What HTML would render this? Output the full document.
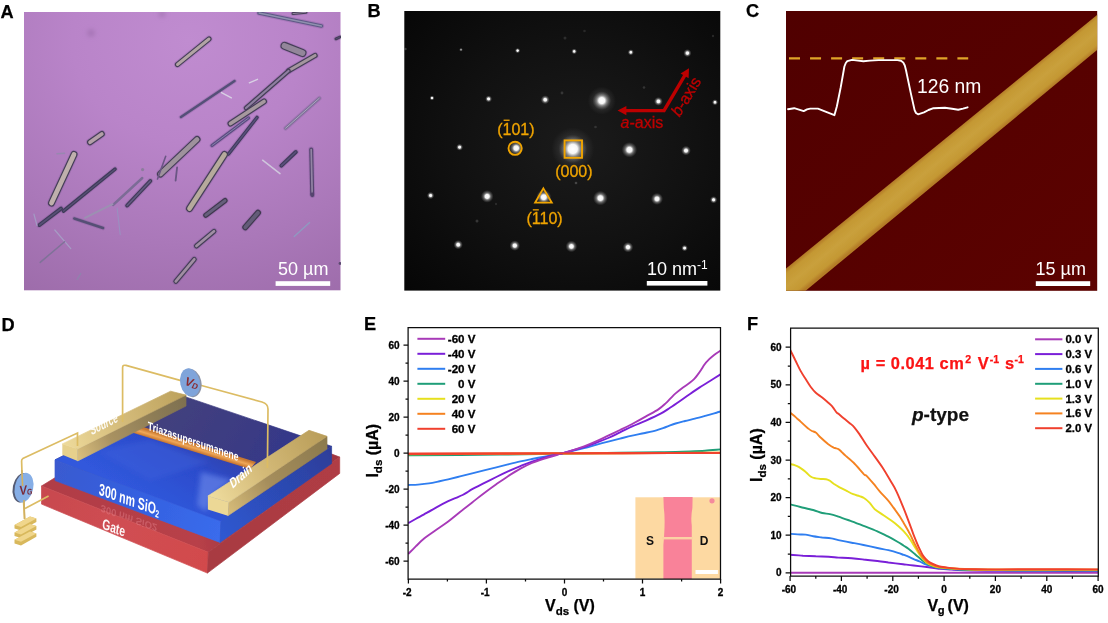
<!DOCTYPE html>
<html lang="en">
<head>
<meta charset="utf-8">
<title>Figure</title>
<style>
html,body{margin:0;padding:0;background:#ffffff;overflow:hidden}
svg{display:block}
text{font-family:"Liberation Sans",sans-serif}
.lab{font-size:18.2px;font-weight:bold;fill:#000;stroke:#000;stroke-width:0.25px}
.sb{font-size:18px;fill:#fff}
.tk{font-size:10px;font-weight:bold;fill:#000;stroke:#000;stroke-width:0.3px}
.lg{font-size:11.4px;font-weight:bold;fill:#000;stroke:#000;stroke-width:0.3px}
.ax{font-size:16px;font-weight:bold;fill:#000;stroke:#000;stroke-width:0.25px}
.cv{fill:none;stroke-width:1.9;stroke-linejoin:round;stroke-linecap:butt}
</style>
</head>
<body>
<svg width="1108" height="623" viewBox="0 0 1108 623">
<rect x="0" y="0" width="1108" height="623" fill="#ffffff"/>

<!-- Panel A: optical micrograph -->
<g id="panelA">
<defs>
<radialGradient id="gA" cx="0.52" cy="0.1" r="1.05">
<stop offset="0" stop-color="#c08cd0"/>
<stop offset="0.35" stop-color="#b984c9"/>
<stop offset="0.7" stop-color="#aa78b9"/>
<stop offset="1" stop-color="#9d6caa"/>
</radialGradient>
<filter id="blA" x="-5%" y="-5%" width="110%" height="110%"><feGaussianBlur stdDeviation="0.6"/></filter>
<filter id="blA2" x="-50%" y="-50%" width="200%" height="200%"><feGaussianBlur stdDeviation="2"/></filter>
<clipPath id="cA"><rect x="24" y="12" width="316.5" height="278.3"/></clipPath>
</defs>
<rect x="24" y="12" width="316.5" height="278.3" fill="url(#gA)"/>
<g clip-path="url(#cA)">
<g filter="url(#blA2)">
<circle cx="91" cy="33" r="4" fill="#a877b8"/>
<circle cx="162" cy="14" r="3.5" fill="#aa7aba"/>
</g>
<g filter="url(#blA)">
<line x1="177.5" y1="64.5" x2="209" y2="39" stroke="#5c4478" stroke-width="7" stroke-linecap="round" opacity="0.2"/>
<line x1="177.5" y1="64.5" x2="209" y2="39" stroke="#443e56" stroke-width="5.2" stroke-linecap="round" opacity="1.0"/>
<line x1="177.5" y1="64.5" x2="209" y2="39" stroke="#b2a4a4" stroke-width="2.9" stroke-linecap="round"/>
<line x1="259" y1="13" x2="321.5" y2="26" stroke="#5c4478" stroke-width="5.4" stroke-linecap="round" opacity="0.2"/>
<line x1="259" y1="13" x2="321.5" y2="26" stroke="#5e5a86" stroke-width="3.6" stroke-linecap="round" opacity="1.0"/>
<line x1="259" y1="13" x2="321.5" y2="26" stroke="#8f90ae" stroke-width="1.3" stroke-linecap="round"/>
<line x1="293" y1="13.6" x2="306" y2="12.2" stroke="#5c4478" stroke-width="4.8" stroke-linecap="round" opacity="0.2"/>
<line x1="293" y1="13.6" x2="306" y2="12.2" stroke="#443e56" stroke-width="3" stroke-linecap="round" opacity="1.0"/>
<line x1="293" y1="13.6" x2="306" y2="12.2" stroke="#9a8aa6" stroke-width="0.9" stroke-linecap="round"/>
<line x1="336" y1="38.8" x2="340" y2="37" stroke="#5c4478" stroke-width="4.8" stroke-linecap="round" opacity="0.2"/>
<line x1="336" y1="38.8" x2="340" y2="37" stroke="#443e56" stroke-width="3" stroke-linecap="round" opacity="1.0"/>
<line x1="336" y1="38.8" x2="340" y2="37" stroke="#5a4a78" stroke-width="0.9" stroke-linecap="round"/>
<line x1="284.5" y1="45.8" x2="302.5" y2="53" stroke="#5c4478" stroke-width="9.8" stroke-linecap="round" opacity="0.2"/>
<line x1="284.5" y1="45.8" x2="302.5" y2="53" stroke="#443e56" stroke-width="8" stroke-linecap="round" opacity="1.0"/>
<line x1="284.5" y1="45.8" x2="302.5" y2="53" stroke="#93869a" stroke-width="5.7" stroke-linecap="round"/>
<line x1="315" y1="55.5" x2="289" y2="70.5" stroke="#5c4478" stroke-width="7.2" stroke-linecap="round" opacity="0.2"/>
<line x1="315" y1="55.5" x2="289" y2="70.5" stroke="#443e56" stroke-width="5.4" stroke-linecap="round" opacity="1.0"/>
<line x1="315" y1="55.5" x2="289" y2="70.5" stroke="#a4969e" stroke-width="3.1" stroke-linecap="round"/>
<line x1="288.5" y1="71" x2="246" y2="108" stroke="#5c4478" stroke-width="6.4" stroke-linecap="round" opacity="0.2"/>
<line x1="288.5" y1="71" x2="246" y2="108" stroke="#443e56" stroke-width="4.6" stroke-linecap="round" opacity="1.0"/>
<line x1="288.5" y1="71" x2="246" y2="108" stroke="#8e7fa0" stroke-width="2.3" stroke-linecap="round"/>
<line x1="264" y1="101.5" x2="230.5" y2="123.5" stroke="#5c4478" stroke-width="7.8" stroke-linecap="round" opacity="0.2"/>
<line x1="264" y1="101.5" x2="230.5" y2="123.5" stroke="#443e56" stroke-width="6" stroke-linecap="round" opacity="1.0"/>
<line x1="264" y1="101.5" x2="230.5" y2="123.5" stroke="#a6989e" stroke-width="3.7" stroke-linecap="round"/>
<line x1="257" y1="117.5" x2="228.5" y2="154" stroke="#5c4478" stroke-width="5.4" stroke-linecap="round" opacity="0.2"/>
<line x1="257" y1="117.5" x2="228.5" y2="154" stroke="#3f3a5a" stroke-width="3.6" stroke-linecap="round" opacity="1.0"/>
<line x1="257" y1="117.5" x2="228.5" y2="154" stroke="#57507a" stroke-width="1.3" stroke-linecap="round"/>
<line x1="248.5" y1="118" x2="212" y2="145.5" stroke="#5c4478" stroke-width="5" stroke-linecap="round" opacity="0.2"/>
<line x1="248.5" y1="118" x2="212" y2="145.5" stroke="#5a4c80" stroke-width="3.2" stroke-linecap="round" opacity="1.0"/>
<line x1="248.5" y1="118" x2="212" y2="145.5" stroke="#8c84b0" stroke-width="0.9" stroke-linecap="round"/>
<line x1="224.5" y1="154.5" x2="189.5" y2="208.5" stroke="#5c4478" stroke-width="8.8" stroke-linecap="round" opacity="0.2"/>
<line x1="224.5" y1="154.5" x2="189.5" y2="208.5" stroke="#443e56" stroke-width="7" stroke-linecap="round" opacity="1.0"/>
<line x1="224.5" y1="154.5" x2="189.5" y2="208.5" stroke="#b6aa9c" stroke-width="4.7" stroke-linecap="round"/>
<line x1="197" y1="139.5" x2="160.5" y2="174" stroke="#5c4478" stroke-width="8.8" stroke-linecap="round" opacity="0.2"/>
<line x1="197" y1="139.5" x2="160.5" y2="174" stroke="#443e56" stroke-width="7" stroke-linecap="round" opacity="1.0"/>
<line x1="197" y1="139.5" x2="160.5" y2="174" stroke="#9e929c" stroke-width="4.7" stroke-linecap="round"/>
<line x1="165.7" y1="156.3" x2="157.5" y2="179" stroke="#6a5684" stroke-width="1.6" stroke-linecap="round" opacity="1.0"/>
<line x1="177.1" y1="167.3" x2="175.6" y2="180.6" stroke="#6a5684" stroke-width="1.8" stroke-linecap="round" opacity="1.0"/>
<line x1="234.5" y1="81" x2="181" y2="117" stroke="#5c4478" stroke-width="4.4" stroke-linecap="round" opacity="0.2"/>
<line x1="234.5" y1="81" x2="181" y2="117" stroke="#555078" stroke-width="2.6" stroke-linecap="round" opacity="1.0"/>
<line x1="249.3" y1="82.8" x2="257.5" y2="79.3" stroke="#d8d0e4" stroke-width="1.4" stroke-linecap="round" opacity="1.0"/>
<line x1="221.5" y1="92.6" x2="231.4" y2="97.8" stroke="#d8d0e4" stroke-width="1.4" stroke-linecap="round" opacity="1.0"/>
<line x1="319.3" y1="98.2" x2="285.6" y2="128.2" stroke="#5c4478" stroke-width="4.6" stroke-linecap="round" opacity="0.2"/>
<line x1="319.3" y1="98.2" x2="285.6" y2="128.2" stroke="#7c7296" stroke-width="2.8" stroke-linecap="round" opacity="1.0"/>
<line x1="319.3" y1="98.2" x2="285.6" y2="128.2" stroke="#b4a8c6" stroke-width="0.9" stroke-linecap="round"/>
<line x1="262.6" y1="160.2" x2="280" y2="173.6" stroke="#cfc6dc" stroke-width="1.5" stroke-linecap="round" opacity="1.0"/>
<line x1="295.8" y1="152" x2="281.4" y2="165.6" stroke="#5c4478" stroke-width="5.8" stroke-linecap="round" opacity="0.2"/>
<line x1="295.8" y1="152" x2="281.4" y2="165.6" stroke="#403a5a" stroke-width="4" stroke-linecap="round" opacity="1.0"/>
<line x1="295.8" y1="152" x2="281.4" y2="165.6" stroke="#58507a" stroke-width="1.7" stroke-linecap="round"/>
<line x1="311.2" y1="149.5" x2="312.2" y2="194.5" stroke="#5c4478" stroke-width="5.8" stroke-linecap="round" opacity="0.2"/>
<line x1="311.2" y1="149.5" x2="312.2" y2="194.5" stroke="#54446e" stroke-width="4" stroke-linecap="round" opacity="1.0"/>
<line x1="311.2" y1="149.5" x2="312.2" y2="194.5" stroke="#9284a4" stroke-width="1.7" stroke-linecap="round"/>
<line x1="90" y1="142.3" x2="101.8" y2="134" stroke="#5c4478" stroke-width="7.8" stroke-linecap="round" opacity="0.2"/>
<line x1="90" y1="142.3" x2="101.8" y2="134" stroke="#443e56" stroke-width="6" stroke-linecap="round" opacity="1.0"/>
<line x1="90" y1="142.3" x2="101.8" y2="134" stroke="#b39fa8" stroke-width="3.7" stroke-linecap="round"/>
<line x1="57" y1="153.8" x2="64.5" y2="153.2" stroke="#9888b0" stroke-width="1.5" stroke-linecap="round" opacity="1.0"/>
<line x1="74" y1="154.5" x2="51.5" y2="203" stroke="#5c4478" stroke-width="8.8" stroke-linecap="round" opacity="0.2"/>
<line x1="74" y1="154.5" x2="51.5" y2="203" stroke="#443e56" stroke-width="7" stroke-linecap="round" opacity="1.0"/>
<line x1="74" y1="154.5" x2="51.5" y2="203" stroke="#bfb0ac" stroke-width="4.7" stroke-linecap="round"/>
<line x1="115" y1="169.2" x2="63.5" y2="211" stroke="#5c4478" stroke-width="5.4" stroke-linecap="round" opacity="0.2"/>
<line x1="115" y1="169.2" x2="63.5" y2="211" stroke="#3e3a58" stroke-width="3.6" stroke-linecap="round" opacity="1.0"/>
<line x1="115" y1="169.2" x2="63.5" y2="211" stroke="#565074" stroke-width="1.3" stroke-linecap="round"/>
<line x1="61" y1="208.6" x2="39.5" y2="225" stroke="#5c4478" stroke-width="5.8" stroke-linecap="round" opacity="0.2"/>
<line x1="61" y1="208.6" x2="39.5" y2="225" stroke="#3e3a58" stroke-width="4" stroke-linecap="round" opacity="1.0"/>
<line x1="61" y1="208.6" x2="39.5" y2="225" stroke="#565074" stroke-width="1.7" stroke-linecap="round"/>
<line x1="142.3" y1="178" x2="113" y2="205" stroke="#7c6c96" stroke-width="2.4" stroke-linecap="round" opacity="1.0"/>
<line x1="112.5" y1="204.2" x2="85" y2="217.8" stroke="#9c90b2" stroke-width="2" stroke-linecap="round" opacity="1.0"/>
<line x1="150.3" y1="181" x2="127.2" y2="205.5" stroke="#5c4478" stroke-width="5.8" stroke-linecap="round" opacity="0.2"/>
<line x1="150.3" y1="181" x2="127.2" y2="205.5" stroke="#403a58" stroke-width="4" stroke-linecap="round" opacity="1.0"/>
<line x1="150.3" y1="181" x2="127.2" y2="205.5" stroke="#625a80" stroke-width="1.7" stroke-linecap="round"/>
<line x1="74.3" y1="218.5" x2="103" y2="228" stroke="#5c4478" stroke-width="4.4" stroke-linecap="round" opacity="0.2"/>
<line x1="74.3" y1="218.5" x2="103" y2="228" stroke="#545074" stroke-width="2.6" stroke-linecap="round" opacity="1.0"/>
<line x1="117.1" y1="208" x2="120.2" y2="234.6" stroke="#9a90c0" stroke-width="1.1" stroke-linecap="round" opacity="1.0"/>
<line x1="33.9" y1="214" x2="37" y2="225.5" stroke="#a49ac4" stroke-width="1.2" stroke-linecap="round" opacity="1.0"/>
<line x1="54.8" y1="230" x2="70.8" y2="248.6" stroke="#a79cc4" stroke-width="1.2" stroke-linecap="round" opacity="1.0"/>
<line x1="64.6" y1="241.8" x2="40.2" y2="262.4" stroke="#7f7298" stroke-width="1.5" stroke-linecap="round" opacity="1.0"/>
<line x1="80.8" y1="273.5" x2="77.2" y2="279.3" stroke="#8f84ac" stroke-width="1.3" stroke-linecap="round" opacity="1.0"/>
<line x1="194.3" y1="259.3" x2="175.8" y2="281.4" stroke="#5c4478" stroke-width="6.8" stroke-linecap="round" opacity="0.2"/>
<line x1="194.3" y1="259.3" x2="175.8" y2="281.4" stroke="#443e56" stroke-width="5" stroke-linecap="round" opacity="1.0"/>
<line x1="194.3" y1="259.3" x2="175.8" y2="281.4" stroke="#a08ea2" stroke-width="2.7" stroke-linecap="round"/>
<line x1="225" y1="200.6" x2="205.8" y2="215.2" stroke="#5c4478" stroke-width="7" stroke-linecap="round" opacity="0.2"/>
<line x1="225" y1="200.6" x2="205.8" y2="215.2" stroke="#3e384e" stroke-width="5.2" stroke-linecap="round" opacity="1.0"/>
<line x1="225" y1="200.6" x2="205.8" y2="215.2" stroke="#665e7c" stroke-width="2.9" stroke-linecap="round"/>
<line x1="214" y1="231.3" x2="196.4" y2="246" stroke="#5c4478" stroke-width="6.8" stroke-linecap="round" opacity="0.2"/>
<line x1="214" y1="231.3" x2="196.4" y2="246" stroke="#443e56" stroke-width="5" stroke-linecap="round" opacity="1.0"/>
<line x1="214" y1="231.3" x2="196.4" y2="246" stroke="#a08ea4" stroke-width="2.7" stroke-linecap="round"/>
<line x1="258" y1="212.8" x2="245.3" y2="227.3" stroke="#5c4478" stroke-width="7.8" stroke-linecap="round" opacity="0.2"/>
<line x1="258" y1="212.8" x2="245.3" y2="227.3" stroke="#3e384e" stroke-width="6" stroke-linecap="round" opacity="1.0"/>
<line x1="258" y1="212.8" x2="245.3" y2="227.3" stroke="#645c78" stroke-width="3.7" stroke-linecap="round"/>
<line x1="309.6" y1="222.6" x2="294.2" y2="236.4" stroke="#8f9ac0" stroke-width="1.4" stroke-linecap="round" opacity="1.0"/>
<line x1="312.2" y1="194" x2="312.4" y2="195.5" stroke="#5c4478" stroke-width="4.8" stroke-linecap="round" opacity="0.2"/>
<line x1="312.2" y1="194" x2="312.4" y2="195.5" stroke="#54446e" stroke-width="3" stroke-linecap="round" opacity="1.0"/>
<circle cx="142.6" cy="169.6" r="1.6" fill="#8c7c9c"/>
<circle cx="340" cy="263.5" r="1.4" fill="#5a4a70"/>
</g>
</g>
<rect x="275.6" y="281.2" width="54.6" height="4.7" fill="#ffffff"/>
<text class="sb" x="278" y="275.3">50 µm</text>
<text class="lab" x="0.6" y="18">A</text>
</g>

<!-- Panel B: electron diffraction -->
<g id="panelB">
<defs>
<radialGradient id="gB" cx="0.55" cy="0.48" r="0.75">
<stop offset="0" stop-color="#1b1b1b"/>
<stop offset="0.5" stop-color="#111111"/>
<stop offset="1" stop-color="#060606"/>
</radialGradient>
<radialGradient id="sp" cx="0.5" cy="0.5" r="0.5">
<stop offset="0" stop-color="#ffffff" stop-opacity="1"/>
<stop offset="0.32" stop-color="#ffffff" stop-opacity="0.95"/>
<stop offset="0.55" stop-color="#dddddd" stop-opacity="0.45"/>
<stop offset="1" stop-color="#888888" stop-opacity="0"/>
</radialGradient>
<radialGradient id="gl" cx="0.5" cy="0.5" r="0.5">
<stop offset="0" stop-color="#ffffff" stop-opacity="0.3"/>
<stop offset="0.5" stop-color="#ffffff" stop-opacity="0.1"/>
<stop offset="1" stop-color="#ffffff" stop-opacity="0"/>
</radialGradient>
<clipPath id="cB"><rect x="404.3" y="11" width="316" height="279.6"/></clipPath>
</defs>
<rect x="404.3" y="11" width="316" height="279.6" fill="url(#gB)"/>
<g clip-path="url(#cB)">
<circle cx="461" cy="49.7" r="2" fill="url(#sp)" opacity="0.55"/>
<circle cx="517.6" cy="50.6" r="2.7" fill="url(#sp)" opacity="1.0"/>
<circle cx="574.2" cy="51.4" r="2.9" fill="url(#sp)" opacity="1.0"/>
<circle cx="630.8" cy="52.3" r="3.1" fill="url(#sp)" opacity="1.0"/>
<circle cx="687.4" cy="53.1" r="4.1" fill="url(#sp)" opacity="1.0"/>
<circle cx="432" cy="98" r="2.5" fill="url(#sp)" opacity="1.0"/>
<circle cx="488.6" cy="98.9" r="3.5" fill="url(#sp)" opacity="1.0"/>
<circle cx="545.2" cy="99.7" r="4.5" fill="url(#sp)" opacity="1.0"/>
<circle cx="601.8" cy="100.6" r="14.1" fill="url(#gl)"/>
<circle cx="601.8" cy="100.6" r="9.4" fill="url(#sp)" opacity="1.0"/>
<circle cx="658.4" cy="101.4" r="4.5" fill="url(#sp)" opacity="1.0"/>
<circle cx="715" cy="102.3" r="3.1" fill="url(#sp)" opacity="1.0"/>
<circle cx="459.6" cy="147.2" r="3.5" fill="url(#sp)" opacity="1.0"/>
<circle cx="516.2" cy="148.1" r="7.2" fill="url(#sp)" opacity="1.0"/>
<circle cx="572.8" cy="148.9" r="21.5" fill="url(#gl)"/>
<circle cx="572.8" cy="148.9" r="14.3" fill="url(#sp)" opacity="1.0"/>
<circle cx="629.4" cy="149.8" r="7.8" fill="url(#sp)" opacity="1.0"/>
<circle cx="686" cy="150.6" r="4.9" fill="url(#sp)" opacity="1.0"/>
<circle cx="430.6" cy="195.5" r="3.7" fill="url(#sp)" opacity="1.0"/>
<circle cx="487.2" cy="196.4" r="6.4" fill="url(#sp)" opacity="1.0"/>
<circle cx="543.8" cy="197.2" r="7.6" fill="url(#sp)" opacity="1.0"/>
<circle cx="600.4" cy="198.1" r="7.4" fill="url(#sp)" opacity="1.0"/>
<circle cx="657" cy="198.9" r="6.1" fill="url(#sp)" opacity="1.0"/>
<circle cx="713.6" cy="199.8" r="3.7" fill="url(#sp)" opacity="1.0"/>
<circle cx="458.2" cy="244.7" r="4.7" fill="url(#sp)" opacity="1.0"/>
<circle cx="514.8" cy="245.6" r="5.3" fill="url(#sp)" opacity="1.0"/>
<circle cx="571.4" cy="246.4" r="5.9" fill="url(#sp)" opacity="1.0"/>
<circle cx="628" cy="247.2" r="5.3" fill="url(#sp)" opacity="1.0"/>
<circle cx="684.6" cy="248.1" r="3.3" fill="url(#sp)" opacity="1.0"/>
<circle cx="565" cy="38" r="1.5" fill="#ffffff" opacity="0.12"/>
<circle cx="584.5" cy="31" r="1.3" fill="#ffffff" opacity="0.1"/>
<circle cx="562" cy="93" r="1.4" fill="#ffffff" opacity="0.14"/>
<circle cx="595.5" cy="127" r="1.3" fill="#ffffff" opacity="0.12"/>
<circle cx="477" cy="221" r="1.5" fill="#ffffff" opacity="0.16"/>
<circle cx="496" cy="204" r="1.2" fill="#ffffff" opacity="0.1"/>
<circle cx="576" cy="183" r="1.3" fill="#ffffff" opacity="0.2"/>
<circle cx="644" cy="87.5" r="1.3" fill="#ffffff" opacity="0.14"/>
<circle cx="713" cy="36" r="1.2" fill="#ffffff" opacity="0.12"/>
<circle cx="405.5" cy="49" r="1.2" fill="#ffffff" opacity="0.2"/>
</g>
<circle cx="515.1" cy="148.3" r="6.6" fill="none" stroke="#f0a400" stroke-width="1.9"/>
<rect x="564.6" y="140.4" width="17.4" height="17.4" fill="none" stroke="#f0a400" stroke-width="1.9"/>
<path d="M543.4 188.4 L551.8 202.7 L535.1 202.7 Z" fill="none" stroke="#f0a400" stroke-width="1.8" stroke-linejoin="miter"/>
<text x="555.2" y="176.6" font-size="16" fill="#f0a400" stroke="#f0a400" stroke-width="0.3">(000)</text>
<text x="497.2" y="134.6" font-size="16" fill="#f0a400" stroke="#f0a400" stroke-width="0.3">(101)</text>
<rect x="503.6" y="119.6" width="6" height="1.3" fill="#f0a400"/>
<text x="526.5" y="224.2" font-size="16" fill="#f0a400" stroke="#f0a400" stroke-width="0.3">(110)</text>
<rect x="532.8" y="209.2" width="6" height="1.3" fill="#f0a400"/>
<path d="M664.3 110.6 L625 110.6" fill="none" stroke="#bd0000" stroke-width="3.4"/>
<path d="M617.6 110.6 L626.4 106 L626.4 115.2 Z" fill="#bd0000"/>
<path d="M663.4 111.6 L685.4 74.4" fill="none" stroke="#bd0000" stroke-width="3.4"/>
<path d="M689 68.2 L688.6 78.2 L680.6 73.6 Z" fill="#bd0000"/>
<text x="620.6" y="127.6" font-size="16" fill="#bd0000" stroke="#bd0000" stroke-width="0.3"><tspan font-style="italic">a</tspan>-axis</text>
<text transform="translate(679.5 117.6) rotate(-58.5)" font-size="16" fill="#bd0000" stroke="#bd0000" stroke-width="0.3"><tspan font-style="italic">b</tspan>-axis</text>
<rect x="646.8" y="281" width="60.6" height="4.6" fill="#ffffff"/>
<text class="sb" x="647" y="275.3">10 nm<tspan font-size="12" dy="-6.5">-1</tspan></text>
<text class="lab" x="367.5" y="17">B</text>
</g>

<!-- Panel C: AFM -->
<g id="panelC">
<defs>
<linearGradient id="gC" x1="0" y1="0" x2="1" y2="1">
<stop offset="0" stop-color="#500000"/>
<stop offset="1" stop-color="#5c0200"/>
</linearGradient>
<linearGradient id="gS" gradientUnits="userSpaceOnUse" x1="941.6" y1="141.8" x2="958.8" y2="162.8">
<stop offset="0" stop-color="#b47c28"/>
<stop offset="0.14" stop-color="#c49833"/>
<stop offset="0.5" stop-color="#c9a03c"/>
<stop offset="0.86" stop-color="#c49833"/>
<stop offset="1" stop-color="#b47c28"/>
</linearGradient>
<filter id="blC" x="-5%" y="-5%" width="110%" height="110%"><feGaussianBlur stdDeviation="0.7"/></filter>
<clipPath id="cC"><rect x="786" y="11" width="311.2" height="279.8"/></clipPath>
</defs>
<rect x="786" y="11" width="311.2" height="279.8" fill="url(#gC)"/>
<g clip-path="url(#cC)">
<polygon points="780,273.4 1103,10.2 1103,45.2 800,295.4 780,295.4" fill="url(#gS)" filter="url(#blC)"/>
</g>
<line x1="789" y1="58.4" x2="968.2" y2="58.4" stroke="#dfa428" stroke-width="2.2" stroke-dasharray="11 10.05"/>
<path d="M788 109.2 L794.2 108.2 L799 109.6 L803.7 111.1 L807 109.4 L810.3 108.6 L817.9 108.6 L825.5 111.6 L834.4 115.2 L836.9 106.3 L840.7 87.4 L844.4 66.5 L845.8 63 L847.3 61.2 L852 59.9 L858 60.6 L863.4 61.2 L870 60.6 L878.6 60.1 L897.5 60.1 L901 60.8 L903.2 62.4 L904.8 65.5 L906 70.3 L910.8 93.1 L914.6 110.1 L916 113 L918 114.3 L924 112.4 L928.5 110 L933.5 108.2 L944.9 107.7 L952 108.8 L958.2 109.7 L963 108.6 L967.6 107.3" fill="none" stroke="#ffffff" stroke-width="1.9" stroke-linejoin="round" stroke-linecap="round"/>
<text x="917" y="93.2" font-size="19.3" fill="#ffffff">126 nm</text>
<rect x="1035.8" y="281.2" width="54.4" height="4.8" fill="#ffffff"/>
<text class="sb" x="1035.6" y="275.3">15 µm</text>
<text class="lab" x="746" y="17">C</text>
</g>

<!-- Panel D: device schematic -->
<g id="panelD">
<defs>
<linearGradient id="rdL" gradientUnits="userSpaceOnUse" x1="42" y1="495" x2="208" y2="562">
<stop offset="0" stop-color="#c8494f"/><stop offset="0.5" stop-color="#d04e52"/><stop offset="1" stop-color="#d24a4c"/>
</linearGradient>
<linearGradient id="rdT" gradientUnits="userSpaceOnUse" x1="42" y1="490" x2="340" y2="460">
<stop offset="0" stop-color="#b03c46"/><stop offset="0.5" stop-color="#b84048"/><stop offset="0.6" stop-color="#a83a44"/><stop offset="1" stop-color="#a03640"/>
</linearGradient>
<linearGradient id="rdR" gradientUnits="userSpaceOnUse" x1="208" y1="562" x2="340" y2="465">
<stop offset="0" stop-color="#a83a42"/><stop offset="1" stop-color="#b03c44"/>
</linearGradient>
<linearGradient id="blL" gradientUnits="userSpaceOnUse" x1="55" y1="470" x2="221" y2="532">
<stop offset="0" stop-color="#3a5ad0"/><stop offset="0.5" stop-color="#3460e0"/><stop offset="1" stop-color="#3a6cec"/>
</linearGradient>
<linearGradient id="blR" gradientUnits="userSpaceOnUse" x1="221" y1="532" x2="332" y2="455">
<stop offset="0" stop-color="#2e58d0"/><stop offset="0.6" stop-color="#2c48b0"/><stop offset="1" stop-color="#2e3e9a"/>
</linearGradient>
<linearGradient id="blT" gradientUnits="userSpaceOnUse" x1="200" y1="445" x2="160" y2="510">
<stop offset="0" stop-color="#3044b4"/><stop offset="0.3" stop-color="#2c4ccc"/><stop offset="1" stop-color="#3058dc"/>
</linearGradient>
<linearGradient id="blTb" gradientUnits="userSpaceOnUse" x1="180" y1="400" x2="300" y2="470">
<stop offset="0" stop-color="#42407e"/><stop offset="0.6" stop-color="#3a3a84"/><stop offset="1" stop-color="#30388e"/>
</linearGradient>
<linearGradient id="auT" gradientUnits="userSpaceOnUse" x1="62" y1="446" x2="186" y2="393">
<stop offset="0" stop-color="#eedb9c"/><stop offset="0.45" stop-color="#d6bd7c"/><stop offset="1" stop-color="#bca15c"/>
</linearGradient>
<linearGradient id="auS" gradientUnits="userSpaceOnUse" x1="78" y1="455" x2="186" y2="400">
<stop offset="0" stop-color="#d8be7c"/><stop offset="0.3" stop-color="#a99262"/><stop offset="0.75" stop-color="#8a7a54"/><stop offset="1" stop-color="#7e7050"/>
</linearGradient>
<linearGradient id="auT2" gradientUnits="userSpaceOnUse" x1="208" y1="500" x2="327" y2="433">
<stop offset="0" stop-color="#f0dea0"/><stop offset="0.45" stop-color="#d4ba78"/><stop offset="1" stop-color="#b89c58"/>
</linearGradient>
<linearGradient id="auS2" gradientUnits="userSpaceOnUse" x1="228" y1="509" x2="327" y2="443">
<stop offset="0" stop-color="#d4ba78"/><stop offset="0.4" stop-color="#a68e5c"/><stop offset="1" stop-color="#8c7a4e"/>
</linearGradient>
<linearGradient id="rod" gradientUnits="userSpaceOnUse" x1="191.2" y1="443.4" x2="189" y2="450.6">
<stop offset="0" stop-color="#c87830"/><stop offset="0.45" stop-color="#f0a858"/><stop offset="1" stop-color="#c06c28"/>
</linearGradient>
<filter id="blD" x="-5%" y="-5%" width="110%" height="110%"><feGaussianBlur stdDeviation="0.5"/></filter>
<filter id="blD2" x="-20%" y="-20%" width="140%" height="140%"><feGaussianBlur stdDeviation="2.5"/></filter>
</defs>
<g filter="url(#blD)">
<polygon points="41.5,486 208.3,552.3 339.7,457.1 185,398" fill="url(#rdT)" stroke="url(#rdT)" stroke-width="0.7" stroke-linejoin="round"/>
<polygon points="41.5,486 208.3,552.3 207.4,573.1 41.5,504.1" fill="url(#rdL)" stroke="url(#rdL)" stroke-width="0.7" stroke-linejoin="round"/>
<polygon points="208.3,552.3 339.7,457.1 339.7,473.4 207.4,573.1" fill="url(#rdR)" stroke="url(#rdR)" stroke-width="0.7" stroke-linejoin="round"/>
<polygon points="55,459.9 220.9,521.7 331.6,446.3 180,395" fill="url(#blTb)" stroke="url(#blTb)" stroke-width="0.7" stroke-linejoin="round"/>
<polygon points="55,459.9 220.9,521.7 262,494 250,464.5 125,427" fill="url(#blT)" stroke="url(#blT)" stroke-width="0.7" stroke-linejoin="round"/>
<polygon points="55,459.9 220.9,521.7 220,542.4 55,480.6" fill="url(#blL)" stroke="url(#blL)" stroke-width="0.7" stroke-linejoin="round"/>
<polygon points="220.9,521.7 331.6,446.3 331.6,463.5 220,542.4" fill="url(#blR)" stroke="url(#blR)" stroke-width="0.7" stroke-linejoin="round"/>
<polygon points="201,472 232,480 214,494 206,512 197,505" fill="#6f8ceb" opacity="0.6" filter="url(#blD2)"/>
<polygon points="100,452 150,440 210,462 150,480" fill="#4a6ae0" opacity="0.3" filter="url(#blD2)"/>
<polygon points="126,425 131,423.2 256,462 250,469 124,430" fill="url(#rod)"/>
<polygon points="77.6,448.9 186,395.1 186,406 77.6,461" fill="url(#auS)" stroke="url(#auS)" stroke-width="0.7" stroke-linejoin="round"/>
<polygon points="62.3,443.9 77.6,448.9 186,395.1 170.6,391.2" fill="url(#auT)" stroke="url(#auT)" stroke-width="0.7" stroke-linejoin="round"/>
<polygon points="62.3,443.9 77.6,448.9 77.6,461 62.3,454.7" fill="#e6d08c"/>
<polygon points="228.7,502.3 327,436.3 327,449 227.8,515.8" fill="url(#auS2)" stroke="url(#auS2)" stroke-width="0.7" stroke-linejoin="round"/>
<polygon points="207.9,496 228.7,502.3 327,436.3 309,430.3" fill="url(#auT2)" stroke="url(#auT2)" stroke-width="0.7" stroke-linejoin="round"/>
<polygon points="207.9,496 228.7,502.3 227.8,515.8 207.9,509.5" fill="#ecd896"/>
<path d="M122.6 422 L122.6 367.5 Q122.6 364.6 126 365.4 L181 380.6" fill="none" stroke="#dcbc64" stroke-width="1.7"/>
<path d="M200.5 385.2 L262 402 Q268 403.8 268 409 L267.4 468" fill="none" stroke="#dcbc64" stroke-width="1.7"/>
<path d="M77.5 446 L77.5 433 L22.8 458.6 Q21.6 459.4 21.6 461 L22 473" fill="none" stroke="#dcbc64" stroke-width="1.7"/>
<path d="M23.6 502 L24.6 519 M25 508.4 L48.6 496" fill="none" stroke="#dcbc64" stroke-width="1.7"/>
<polygon points="14.5,525 30,516.6 36.4,518.6 36.4,522 21,530.6 14.5,528.6" fill="#d8b85c"/>
<polygon points="14.5,525 30,516.6 36.4,518.6 21,527" fill="#f0d68c"/>
<polygon points="14.5,532.4 30,524 36.4,526 36.4,529.4 21,538 14.5,536" fill="#d8b85c"/>
<polygon points="14.5,532.4 30,524 36.4,526 21,534.4" fill="#f0d68c"/>
<polygon points="14.5,539.8 30,531.4 36.4,533.4 36.4,536.8 21,545.4 14.5,543.4" fill="#d8b85c"/>
<polygon points="14.5,539.8 30,531.4 36.4,533.4 21,541.8" fill="#f0d68c"/>
<ellipse cx="191.2" cy="382.9" rx="10.2" ry="14.4" fill="#8c94a8" transform="rotate(-12 191.2 382.9)"/>
<ellipse cx="190" cy="382.4" rx="9.8" ry="14.2" fill="#7fa4da" transform="rotate(-12 190 382.4)"/>
<ellipse cx="22.2" cy="487.8" rx="9.4" ry="15" fill="#555c74" transform="rotate(12 22.2 487.8)"/>
<ellipse cx="24" cy="487.6" rx="9.2" ry="15" fill="#86aee6" transform="rotate(12 24 487.6)"/>
<path d="M21.8 470 L22.6 486 M24 500 L24.6 519" fill="none" stroke="#d2b060" stroke-width="1.6"/>
</g>
<text transform="translate(183.6 384.4) rotate(18) skewX(-8)" font-size="12" font-weight="bold" fill="#8a2a30" textLength="14" lengthAdjust="spacingAndGlyphs">V<tspan font-size="8" dy="1">D</tspan></text>
<text transform="translate(19.4 495) rotate(-6) skewX(-6)" font-size="13" font-weight="bold" fill="#7a2a38" textLength="13" lengthAdjust="spacingAndGlyphs">V<tspan font-size="8" dy="0.5">G</tspan></text>
<text transform="translate(91.6 435.2) rotate(-27) skewX(-14)" font-size="13.5" font-weight="bold" fill="#ffffff" fill-opacity="0.9" textLength="30" lengthAdjust="spacingAndGlyphs">Source</text>
<text transform="translate(147.6 429.8) rotate(19) skewX(16)" font-size="11.5" font-weight="bold" fill="#ffffff" textLength="96" lengthAdjust="spacingAndGlyphs">Triazasupersumanene</text>
<text transform="translate(232.6 489) rotate(-42) skewX(-20)" font-size="13" font-weight="bold" fill="#ffffff" textLength="27" lengthAdjust="spacingAndGlyphs">Drain</text>
<text transform="translate(98.6 494.6) rotate(19.5) skewX(14)" font-size="16" font-weight="bold" fill="#ffffff" textLength="64" lengthAdjust="spacingAndGlyphs">300 nm SiO<tspan font-size="10" dy="2">2</tspan></text>
<text transform="translate(101 504.6) rotate(19.5) skewX(14) scale(1 -0.75)" font-size="13" font-weight="bold" fill="#e88890" fill-opacity="0.4" textLength="60" lengthAdjust="spacingAndGlyphs">300 nm SiO2</text>
<text transform="translate(101.8 528.6) rotate(20) skewX(12)" font-size="14.5" font-weight="bold" fill="#ffffff" fill-opacity="0.95" textLength="24" lengthAdjust="spacingAndGlyphs">Gate</text>
<text class="lab" x="1.5" y="331">D</text>
</g>

<!-- Panel E: output curves -->
<g id="panelE">
<defs><clipPath id="cE"><rect x="408.1" y="327.7" width="312.4" height="251.3"/></clipPath>
<filter id="blI" x="-5%" y="-5%" width="110%" height="110%"><feGaussianBlur stdDeviation="0.6"/></filter></defs>
<g>
<rect x="635.4" y="497.3" width="85.1" height="81.4" fill="#fdd9a2"/>
<g filter="url(#blI)">
<path d="M663.4 497 L692.6 497 L692.4 508 Q690.6 517 691.8 526 L691.8 579 L663.4 579 L663.4 545 Q665.6 520 663.8 508 Z" fill="#f98299"/>
<rect x="662" y="537" width="31" height="2.4" fill="#fbd2a4"/>
<circle cx="712" cy="500.8" r="2.6" fill="#f58a9c"/>
</g>
<rect x="695.5" y="570" width="22.4" height="4" fill="#ffffff"/>
<text x="650" y="545.2" font-size="12" font-weight="bold" text-anchor="middle" fill="#111">S</text>
<text x="704.2" y="545.2" font-size="12" font-weight="bold" text-anchor="middle" fill="#111">D</text>
</g>
<g clip-path="url(#cE)">
<path class="cv" d="M408.2 455.3 C423.5 455.2 473.9 454.9 500 454.6 C526.1 454.3 544.8 453.9 564.8 453.6 C584.8 453.3 604.1 453 620 452.8 C635.9 452.6 648.3 452.4 660 452.2 C671.7 452 682.5 451.6 690 451.4 C697.5 451.1 699.9 451 705 450.7 C710.1 450.4 717.9 449.6 720.5 449.4" stroke="#1f9e78"/>
<path class="cv" d="M408.2 454.2 C434.3 454.1 512.8 453.8 564.8 453.5 C616.8 453.2 694.5 452.8 720.5 452.6" stroke="#e6e01e"/>
<path class="cv" d="M408.2 453.9 C434.3 453.8 512.8 453.6 564.8 453.4 C616.8 453.2 694.5 452.8 720.5 452.7" stroke="#f58220"/>
<path class="cv" d="M408.2 453.7 C434.3 453.6 512.8 453.5 564.8 453.4 C616.8 453.3 694.5 453 720.5 452.9" stroke="#f0402e"/>
<path class="cv" d="M408.2 485 C409.8 484.9 414.6 484.9 418 484.6 C421.4 484.3 425.6 483.9 428.9 483.4 C432.2 482.9 434.8 482.3 438 481.6 C441.2 480.9 444.5 480.2 448.2 479.3 C451.9 478.4 456 477.4 460 476.4 C464 475.4 468.2 474.3 472.2 473.3 C476.2 472.3 480 471.4 484 470.4 C488 469.4 492.3 468.3 496.3 467.3 C500.3 466.3 504 465.4 508 464.4 C512 463.4 516.4 462.3 520.4 461.4 C524.4 460.5 528 459.8 532 459 C536 458.2 540.5 457.4 544.5 456.6 C548.5 455.8 552.6 455 556 454.4 C559.4 453.8 560.1 453.8 564.8 452.8 C569.5 451.8 578.9 449.5 584.1 448.2 C589.3 446.9 592 445.9 596 444.8 C600 443.7 604.2 442.6 608.2 441.6 C612.2 440.6 616 439.6 620 438.6 C624 437.6 628 436.5 632.2 435.6 C636.4 434.7 641 433.9 645 433 C649 432.1 652.8 431.3 656.3 430.3 C659.8 429.3 662.8 428.1 666 427 C669.2 425.9 672.4 424.5 675.6 423.5 C678.8 422.5 681.8 421.8 685 421 C688.2 420.2 691.1 419.6 694.8 418.7 C698.5 417.8 702.7 416.6 707 415.4 C711.3 414.2 718.2 412.1 720.5 411.5" stroke="#2f7ef0"/>
<path class="cv" d="M408.2 523.2 C409.5 522.5 413.4 520.3 416 518.8 C418.6 517.3 420.8 516.3 424.1 514.4 C427.4 512.5 432 509.8 436 507.6 C440 505.4 444.9 502.8 448.2 501.2 C451.5 499.6 453.6 498.8 456 497.8 C458.4 496.8 460.7 495.9 462.6 495 C464.5 494.1 465.9 493.2 467.5 492.2 C469.1 491.2 469.4 490.7 472.2 489.2 C474.9 487.7 480 485.2 484 483.2 C488 481.2 492.3 479 496.3 477 C500.3 475 504 473.2 508 471.4 C512 469.6 516.4 467.7 520.4 466.1 C524.4 464.5 528 463 532 461.6 C536 460.2 540.4 458.8 544.5 457.6 C548.6 456.4 553.1 455.4 556.5 454.6 C559.9 453.8 561.9 453.4 564.8 452.6 C567.7 451.8 570.8 450.9 574 450 C577.2 449.1 580.4 448.3 584.1 447.1 C587.8 445.9 592 444.3 596 442.8 C600 441.3 604.2 439.7 608.2 438 C612.2 436.3 616 434.3 620 432.4 C624 430.5 627.9 428.4 632.2 426.4 C636.5 424.4 641.2 422.8 646 420.6 C650.8 418.4 657.1 415.5 661.1 413.4 C665.1 411.3 666.8 409.9 670 407.8 C673.2 405.7 677.1 403 680.4 400.7 C683.7 398.4 686.8 396.2 690 394 C693.2 391.8 696.4 389.6 699.7 387.4 C703 385.2 706.5 383.2 710 381 C713.5 378.8 718.8 375.5 720.5 374.4" stroke="#7a1fd8"/>
<path class="cv" d="M408.2 554 C409.5 552.7 413.4 548.8 416 546.2 C418.6 543.6 420.8 541.3 424.1 538.6 C427.4 535.9 432 532.9 436 530 C440 527.1 444.2 524.5 448.2 521.5 C452.2 518.5 456 515.2 460 512 C464 508.8 468.2 505.5 472.2 502.4 C476.2 499.3 480 496.2 484 493.2 C488 490.2 492.3 487 496.3 484.2 C500.3 481.4 504 478.8 508 476.2 C512 473.6 516.4 470.8 520.4 468.6 C524.4 466.4 528 464.7 532 463 C536 461.3 540.4 459.9 544.5 458.6 C548.6 457.3 553.1 456 556.5 455 C559.9 454 561.9 453.5 564.8 452.6 C567.7 451.7 570.8 450.8 574 449.8 C577.2 448.8 580.4 447.8 584.1 446.4 C587.8 445 592 443.2 596 441.4 C600 439.6 604.2 437.5 608.2 435.6 C612.2 433.7 616 431.9 620 430 C624 428.1 627.9 426.3 632.2 424 C636.5 421.7 641.6 418.9 646 416.4 C650.4 413.9 655.4 411.3 658.7 409.1 C662 406.9 663.9 404.9 665.9 403.1 C667.9 401.3 668.9 400 670.5 398.4 C672.1 396.8 673.5 395.2 675.6 393.4 C677.7 391.6 680.6 389.3 683 387.5 C685.4 385.7 688.2 384 690 382.6 C691.8 381.2 692.6 380.6 693.8 379.4 C695 378.2 696 377 697.2 375.4 C698.4 373.8 699.8 371.8 701 370 C702.2 368.2 703.2 366.3 704.5 364.5 C705.8 362.7 707.4 361 709 359.4 C710.6 357.8 712.2 356.4 714.1 354.9 C716 353.4 719.4 351.3 720.5 350.6" stroke="#a83ab8"/>
<path class="cv" d="M408.2 453.7 C434.3 453.6 512.8 453.5 564.8 453.4 C616.8 453.3 694.5 453 720.5 452.9" stroke="#f0402e"/>
</g>
<path d="M408.1 327.7 H720.5 V579 H408.1 Z" fill="none" stroke="#0c0c0c" stroke-width="1.25"/>
<path d="M408.4 579 v4.6 M486.4 579 v4.6 M564.5 579 v4.6 M642.5 579 v4.6 M720.6 579 v4.6 M447.4 579 v2.6 M525.5 579 v2.6 M603.5 579 v2.6 M681.6 579 v2.6 M408.1 561.2 h-4.6 M408.1 525.2 h-4.6 M408.1 489.2 h-4.6 M408.1 453.2 h-4.6 M408.1 417.2 h-4.6 M408.1 381.2 h-4.6 M408.1 345.2 h-4.6 M408.1 543.2 h-2.6 M408.1 507.2 h-2.6 M408.1 471.2 h-2.6 M408.1 435.2 h-2.6 M408.1 399.2 h-2.6 M408.1 363.2 h-2.6" fill="none" stroke="#0c0c0c" stroke-width="1.25"/>
<text class="tk" x="399.6" y="564.7" text-anchor="end">-60</text>
<text class="tk" x="399.6" y="528.7" text-anchor="end">-40</text>
<text class="tk" x="399.6" y="492.7" text-anchor="end">-20</text>
<text class="tk" x="399.6" y="456.7" text-anchor="end">0</text>
<text class="tk" x="399.6" y="420.7" text-anchor="end">20</text>
<text class="tk" x="399.6" y="384.7" text-anchor="end">40</text>
<text class="tk" x="399.6" y="348.7" text-anchor="end">60</text>
<text class="tk" x="407.2" y="595.6" text-anchor="middle">-2</text>
<text class="tk" x="485.2" y="595.6" text-anchor="middle">-1</text>
<text class="tk" x="564.5" y="595.6" text-anchor="middle">0</text>
<text class="tk" x="642.5" y="595.6" text-anchor="middle">1</text>
<text class="tk" x="720.6" y="595.6" text-anchor="middle">2</text>
<line x1="417.4" y1="338.8" x2="445.2" y2="338.8" stroke="#a83ab8" stroke-width="2"/>
<text class="lg" x="475.5" y="342.7" text-anchor="end" style="font-size:11.6px">-60 V</text>
<line x1="417.4" y1="353.8" x2="445.2" y2="353.8" stroke="#7a1fd8" stroke-width="2"/>
<text class="lg" x="475.5" y="357.7" text-anchor="end" style="font-size:11.6px">-40 V</text>
<line x1="417.4" y1="368.8" x2="445.2" y2="368.8" stroke="#2f7ef0" stroke-width="2"/>
<text class="lg" x="475.5" y="372.7" text-anchor="end" style="font-size:11.6px">-20 V</text>
<line x1="417.4" y1="383.8" x2="445.2" y2="383.8" stroke="#1f9e78" stroke-width="2"/>
<text class="lg" x="475.5" y="387.7" text-anchor="end" style="font-size:11.6px">0 V</text>
<line x1="417.4" y1="398.8" x2="445.2" y2="398.8" stroke="#e6e01e" stroke-width="2"/>
<text class="lg" x="475.5" y="402.7" text-anchor="end" style="font-size:11.6px">20 V</text>
<line x1="417.4" y1="413.8" x2="445.2" y2="413.8" stroke="#f58220" stroke-width="2"/>
<text class="lg" x="475.5" y="417.7" text-anchor="end" style="font-size:11.6px">40 V</text>
<line x1="417.4" y1="428.8" x2="445.2" y2="428.8" stroke="#f0402e" stroke-width="2"/>
<text class="lg" x="475.5" y="432.7" text-anchor="end" style="font-size:11.6px">60 V</text>
<text class="ax" x="545" y="611.4">V<tspan font-size="11.5" dy="4">ds</tspan><tspan dy="-4"> (V)</tspan></text>
<text class="ax" transform="translate(378.2 477.6) rotate(-90)">I<tspan font-size="11.5" dy="4">ds</tspan><tspan dy="-4"> (µA)</tspan></text>
<text class="lab" x="364" y="329.6">E</text>
</g>

<!-- Panel F: transfer curves -->
<g id="panelF">
<defs><clipPath id="cF"><rect x="790.6" y="328" width="307.7" height="248"/></clipPath></defs>
<g clip-path="url(#cF)">
<path class="cv" d="M790.1 572.8 C815.8 572.8 892.8 572.8 944.1 572.8 C995.4 572.8 1072.4 572.8 1098.1 572.8" stroke="#a83ab8"/>
<path class="cv" d="M790.1 554.8 C792.2 554.9 798.7 555.4 802.9 555.7 C807.2 555.9 811.5 556.1 815.8 556.3 C820 556.4 824.8 556.6 828.6 556.8 C832.4 557 834.5 557.3 838.4 557.6 C842.2 557.8 847.5 558 851.7 558.3 C855.9 558.6 859.2 559 863.5 559.5 C867.8 559.9 873.2 560.5 877.4 561 C881.5 561.5 884.1 561.9 888.4 562.5 C892.7 563 898.8 563.7 903 564.2 C907.2 564.7 909.3 564.9 913.6 565.5 C917.8 566 924.5 566.8 928.7 567.3 C932.9 567.9 934.9 568.3 938.7 568.7 C942.6 569 947.6 569.4 951.8 569.6 C956 569.9 956.6 570 963.9 570.2 C971.1 570.4 981.6 570.6 995.4 570.7 C1009.3 570.9 1029.7 570.9 1046.8 570.9 C1063.9 571 1089.5 570.9 1098.1 570.9" stroke="#7a1fd8"/>
<path class="cv" d="M790.1 533.9 C791.4 534 795.2 534.3 797.8 534.4 C800.4 534.6 802.9 534.3 805.5 534.6 C808.1 534.9 810.4 535.9 813.2 536.3 C816 536.8 819.2 537.1 822.2 537.5 C825.2 537.8 828.5 538 831.2 538.4 C833.9 538.8 834.9 539.4 838.4 540.1 C841.8 540.8 847.5 541.9 851.7 542.7 C855.9 543.5 859.2 544.1 863.5 545 C867.8 545.9 873.2 547.1 877.4 548 C881.5 548.9 885 549.4 888.4 550.2 C891.8 551.1 895.3 552.1 897.9 552.9 C900.5 553.7 902 554.3 903.8 554.9 C905.6 555.6 906.7 555.9 908.4 556.6 C910.2 557.4 912.4 558.4 914.3 559.3 C916.2 560.1 917.9 560.7 919.7 561.5 C921.5 562.3 923.2 563.4 925.1 564.2 C927 564.9 929.5 565.5 931.3 566 C933 566.5 933.5 566.8 935.6 567.2 C937.8 567.6 940.5 568.1 944.1 568.5 C947.7 568.9 951.8 569.2 956.9 569.4 C962.1 569.7 966.3 569.8 974.9 570 C983.5 570.1 996.3 570.3 1008.3 570.4 C1020.2 570.5 1031.8 570.5 1046.8 570.5 C1061.7 570.6 1089.5 570.5 1098.1 570.5" stroke="#2f7ef0"/>
<path class="cv" d="M790.1 504.4 C791.8 504.8 796.5 506.1 800.4 507 C804.2 507.9 809.6 509 813.2 510 C816.8 511 819.4 512.3 822.2 513 C825 513.7 827.2 513.5 829.9 514.1 C832.6 514.7 834.7 515.4 838.4 516.6 C842 517.8 847.5 519.8 851.7 521.3 C855.9 522.8 859.2 524.1 863.5 525.8 C867.8 527.5 873.2 529.6 877.4 531.4 C881.5 533.3 885 534.9 888.4 536.7 C891.8 538.5 895.3 540.5 897.9 542 C900.5 543.5 902 544.6 903.8 545.7 C905.6 546.9 906.7 547.4 908.4 548.7 C910.2 550.1 912.7 552.2 914.3 553.6 C916 555 917.1 555.9 918.4 557 C919.8 558.1 921 559.4 922.3 560.4 C923.6 561.4 924.8 562.2 926.1 563 C927.5 563.8 928.5 564.6 930.2 565.3 C932 566 934.1 566.7 936.4 567.2 C938.7 567.7 940.7 567.9 944.1 568.3 C947.5 568.6 951.8 569 956.9 569.2 C962.1 569.5 966.3 569.6 974.9 569.8 C983.5 569.9 996.3 570.1 1008.3 570.2 C1020.2 570.2 1031.8 570.2 1046.8 570.2 C1061.7 570.2 1089.5 570.2 1098.1 570.2" stroke="#1f9e78"/>
<path class="cv" d="M790.1 464.1 C791 464.3 793.7 464.8 795.2 465.3 C796.7 465.8 797.4 466.1 799.1 467.1 C800.8 468.2 803.6 470.1 805.5 471.7 C807.4 473.2 808.9 475.4 810.6 476.5 C812.3 477.7 814.1 478 815.8 478.4 C817.5 478.8 819.2 478.9 820.9 479 C822.6 479.1 824.7 479 826 479.2 C827.4 479.4 827.8 479.6 829.1 480.3 C830.4 481.1 832.2 482.6 833.7 483.7 C835.3 484.8 836.2 485.5 838.4 486.7 C840.5 487.9 844.1 489.6 846.6 490.8 C849 492.1 851.1 493.3 853.2 494.2 C855.4 495.1 857.6 495.5 859.4 496.1 C861.2 496.7 862.3 496.8 864 498 C865.7 499.1 867.9 501 869.7 502.9 C871.4 504.7 872.2 506.8 874.5 508.9 C876.9 510.9 880.4 513.1 883.5 515.3 C886.6 517.5 890.7 520.1 893.3 522 C895.9 524 897.4 525.4 899.2 526.9 C900.9 528.5 902.3 529.8 903.8 531.4 C905.3 533.1 906.8 534.9 908.2 536.7 C909.5 538.5 910.5 540 911.8 542 C913 544 914.5 546.6 915.9 548.7 C917.2 550.9 918.4 552.9 919.7 554.8 C921 556.6 922.2 558.2 923.6 559.6 C924.9 561.1 926 562.3 927.7 563.4 C929.4 564.5 932 565.4 933.8 566 C935.7 566.7 936.1 566.8 938.7 567.2 C941.3 567.5 944.9 567.9 949.2 568.3 C953.6 568.6 956.9 569 964.6 569.2 C972.3 569.5 981.7 569.7 995.4 569.8 C1009.1 569.9 1029.7 569.8 1046.8 569.8 C1063.9 569.8 1089.5 569.8 1098.1 569.8" stroke="#e6e01e"/>
<path class="cv" d="M790.1 412.6 C791.2 413.5 794.8 416.4 796.5 417.9 C798.3 419.4 798.7 419.9 800.6 421.6 C802.5 423.4 806.2 426.8 808.1 428.4 C809.9 430 810.6 430.4 811.9 431 C813.2 431.7 814.3 431.4 815.8 432.6 C817.3 433.7 818.8 435.9 820.9 437.8 C823 439.8 826.2 442.6 828.3 444.2 C830.5 445.8 832.1 446.8 833.7 447.6 C835.4 448.4 837.1 448.4 838.4 449.1 C839.6 449.8 840.2 450.6 841.4 451.7 C842.7 452.9 843.8 454.1 845.8 455.9 C847.8 457.6 850.2 459.2 853.2 462.3 C856.3 465.3 861.8 472 864 474.3 C866.2 476.5 865 474.2 866.6 475.8 C868.2 477.4 871.3 481.1 873.5 483.7 C875.7 486.3 877.6 488.9 879.9 491.6 C882.3 494.3 885.4 497.2 887.6 499.9 C889.9 502.5 891.4 504.7 893.3 507.4 C895.2 510 897.4 513 899.2 515.6 C900.9 518.3 902.3 520.7 903.8 523.2 C905.3 525.7 906.8 528.2 908.2 530.7 C909.5 533.1 910.5 535.3 911.8 537.8 C913 540.4 914.5 543.5 915.9 546.1 C917.2 548.7 918.4 551.2 919.7 553.2 C921 555.3 922.2 556.9 923.6 558.5 C924.9 560.1 926 561.5 927.7 562.6 C929.4 563.8 932 564.8 933.8 565.5 C935.7 566.2 936.1 566.3 938.7 566.8 C941.3 567.2 944.9 567.7 949.2 568.1 C953.6 568.5 956.9 568.8 964.6 569 C972.3 569.3 981.7 569.5 995.4 569.6 C1009.1 569.7 1029.7 569.6 1046.8 569.6 C1063.9 569.6 1089.5 569.6 1098.1 569.6" stroke="#f58220"/>
<path class="cv" d="M790.1 349.8 C791 351.5 793.5 356.5 795.2 360 C797 363.5 798.9 367.8 800.6 370.9 C802.3 374 803.8 376.2 805.5 378.8 C807.2 381.4 808.9 384.4 810.6 386.7 C812.3 389 813.8 390.9 815.8 392.7 C817.7 394.5 820.1 395.9 822.2 397.6 C824.3 399.3 826.6 401.3 828.3 402.8 C830.1 404.4 831.1 405 832.4 406.6 C833.8 408.2 835.3 411.1 836.3 412.2 C837.3 413.4 837.1 412.7 838.4 413.8 C839.6 414.8 841.9 416.9 844 418.6 C846.1 420.3 849 422.5 850.7 423.9 C852.4 425.3 852.8 425.6 854.3 427.3 C855.7 429 857.3 431 859.4 434.1 C861.5 437.1 864 441.6 866.6 445.3 C869.2 449.1 872.1 452.9 874.8 456.6 C877.5 460.3 879.9 463.6 882.5 467.5 C885.1 471.5 888 476.5 890.2 480.3 C892.4 484.1 893.9 486.2 895.8 490.1 C897.8 494 900 499.4 901.7 503.6 C903.5 507.8 904.9 511.4 906.4 515.3 C907.9 519.2 909.4 523.4 910.7 526.9 C912.1 530.5 913 533.4 914.3 536.7 C915.6 540 917.1 543.5 918.4 546.5 C919.8 549.4 921 552.2 922.3 554.4 C923.6 556.5 924.8 557.9 926.1 559.3 C927.5 560.6 928.5 561.6 930.2 562.6 C932 563.7 934.6 564.8 936.4 565.5 C938.2 566.2 938.9 566.4 941 566.8 C943.2 567.2 946.2 567.6 949.2 567.9 C952.3 568.3 955.2 568.6 959.5 568.9 C963.8 569.1 968.3 569.1 974.9 569.2 C981.5 569.3 987.3 569.4 999.3 569.4 C1011.3 569.4 1030.3 569.2 1046.8 569.2 C1063.2 569.2 1089.5 569.4 1098.1 569.4" stroke="#f0402e"/>
</g>
<path d="M790.6 328 H1098.3 V576 H790.6 Z" fill="none" stroke="#0c0c0c" stroke-width="1.25"/>
<path d="M790.1 576 v5 M841.4 576 v5 M892.8 576 v5 M944.1 576 v5 M995.4 576 v5 M1046.8 576 v5 M1098.1 576 v5 M815.8 576 v2.8 M867.1 576 v2.8 M918.4 576 v2.8 M969.8 576 v2.8 M1021.1 576 v2.8 M1072.4 576 v2.8 M790.6 572.8 h-5 M790.6 535.2 h-5 M790.6 497.6 h-5 M790.6 460 h-5 M790.6 422.4 h-5 M790.6 384.8 h-5 M790.6 347.2 h-5 M790.6 554 h-2.8 M790.6 516.4 h-2.8 M790.6 478.8 h-2.8 M790.6 441.2 h-2.8 M790.6 403.6 h-2.8 M790.6 366 h-2.8" fill="none" stroke="#0c0c0c" stroke-width="1.25"/>
<text class="tk" x="781.6" y="576.4" text-anchor="end">0</text>
<text class="tk" x="781.6" y="538.8" text-anchor="end">10</text>
<text class="tk" x="781.6" y="501.2" text-anchor="end">20</text>
<text class="tk" x="781.6" y="463.6" text-anchor="end">30</text>
<text class="tk" x="781.6" y="426" text-anchor="end">40</text>
<text class="tk" x="781.6" y="388.4" text-anchor="end">50</text>
<text class="tk" x="781.6" y="350.8" text-anchor="end">60</text>
<text class="tk" x="788.9" y="593.2" text-anchor="middle">-60</text>
<text class="tk" x="840.2" y="593.2" text-anchor="middle">-40</text>
<text class="tk" x="891.6" y="593.2" text-anchor="middle">-20</text>
<text class="tk" x="944.1" y="593.2" text-anchor="middle">0</text>
<text class="tk" x="995.4" y="593.2" text-anchor="middle">20</text>
<text class="tk" x="1046.8" y="593.2" text-anchor="middle">40</text>
<text class="tk" x="1098.1" y="593.2" text-anchor="middle">60</text>
<line x1="1035.1" y1="339.3" x2="1062.4" y2="339.3" stroke="#a83ab8" stroke-width="2"/>
<text class="lg" x="1065.4" y="343.2">0.0 V</text>
<line x1="1035.1" y1="354.1" x2="1062.4" y2="354.1" stroke="#7a1fd8" stroke-width="2"/>
<text class="lg" x="1065.4" y="358">0.3 V</text>
<line x1="1035.1" y1="368.9" x2="1062.4" y2="368.9" stroke="#2f7ef0" stroke-width="2"/>
<text class="lg" x="1065.4" y="372.8">0.6 V</text>
<line x1="1035.1" y1="383.8" x2="1062.4" y2="383.8" stroke="#1f9e78" stroke-width="2"/>
<text class="lg" x="1065.4" y="387.7">1.0 V</text>
<line x1="1035.1" y1="398.6" x2="1062.4" y2="398.6" stroke="#e6e01e" stroke-width="2"/>
<text class="lg" x="1065.4" y="402.5">1.3 V</text>
<line x1="1035.1" y1="413.4" x2="1062.4" y2="413.4" stroke="#f58220" stroke-width="2"/>
<text class="lg" x="1065.4" y="417.3">1.6 V</text>
<line x1="1035.1" y1="428.2" x2="1062.4" y2="428.2" stroke="#f0402e" stroke-width="2"/>
<text class="lg" x="1065.4" y="432.1">2.0 V</text>
<g font-weight="bold" fill="#fb1414" stroke="#fb1414" stroke-width="0.25">
<text x="860.6" y="369" font-size="16.4" textLength="103.2" lengthAdjust="spacing">µ = 0.041 cm</text>
<text x="965.2" y="362.7" font-size="10.6">2</text>
<text x="977.8" y="369" font-size="16.4">V</text>
<text x="989.8" y="362.7" font-size="10.6">-1</text>
<text x="1004.9" y="369" font-size="16.4">s</text>
<text x="1014.4" y="362.7" font-size="10.6">-1</text>
</g>
<text x="912" y="421.4" font-size="19" font-weight="bold" fill="#111" stroke="#111" stroke-width="0.25"><tspan font-style="italic">p</tspan>-type</text>
<text class="ax" x="927.4" y="610.8">V</text><text class="ax" x="937.8" y="614.4" style="font-size:11.2px">g</text><text class="ax" x="947.6" y="610.8">(V)</text>
<text class="ax" transform="translate(762.2 482) rotate(-90)">I<tspan font-size="11.5" dy="4">ds</tspan><tspan dy="-4"> (µA)</tspan></text>
<text class="lab" x="747" y="330.2">F</text>
</g>

</svg>
</body>
</html>
